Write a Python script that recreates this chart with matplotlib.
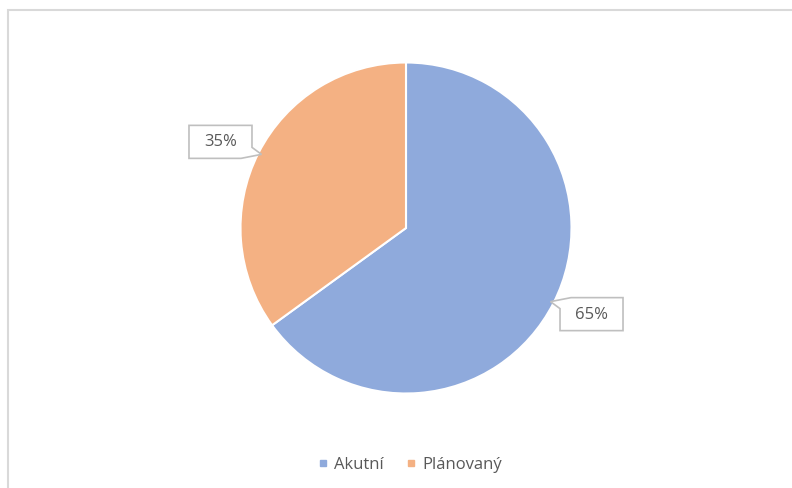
import numpy as np
import matplotlib
matplotlib.use("Agg")
import matplotlib.pyplot as plt
from matplotlib.patches import Polygon, Rectangle
from matplotlib.lines import Line2D

categories = ["Akutní", "Plánovaný"]
values = [65, 35]
labels = ["65%", "35%"]
colors = ["#8FAADC", "#F4B183"]

W, H = 792, 488
fig = plt.figure(figsize=(W / 100, H / 100), dpi=100)
ax = fig.add_axes([0, 0, 1, 1])

# outer chart border (light gray)
ax.add_patch(Rectangle((7.5, -20), W + 20, H - 9.5 + 20, fill=False,
                       edgecolor="#D9D9D9", linewidth=1.5))

cx, cy, r = 406, H - 228, 165.5
wedges, _ = ax.pie(values, colors=colors, startangle=90, counterclock=False,
                   center=(cx, cy), radius=r, frame=True,
                   wedgeprops=dict(edgecolor="white", linewidth=1.5))
ax.set_xlim(0, W)
ax.set_ylim(0, H)
ax.set_aspect("equal")
ax.axis("off")

txtcolor = "#595959"
bw, bh = 63, 33
n1, n2 = 11, 11
for w, lab in zip(wedges, labels):
    mid = np.deg2rad((w.theta1 + w.theta2) / 2)
    ux, uy = np.cos(mid), np.sin(mid)
    sx, sy = np.sign(ux), np.sign(uy)
    tip = np.array([cx + 0.98 * r * ux, cy + 0.98 * r * uy])
    corner = tip + np.array([9.5 * sx, -4.0 * sy])
    far = corner + np.array([bw * sx, bh * sy])
    x0, x1 = sorted([corner[0], far[0]])
    y0, y1 = sorted([corner[1], far[1]])
    corners = [(x0, y0), (x1, y0), (x1, y1), (x0, y1)]
    k = int(np.argmin([np.hypot(px - corner[0], py - corner[1])
                       for px, py in corners]))
    pts = []
    for i in range(4):
        if i == k:
            c = np.array(corners[i])
            v1 = np.array(corners[(i - 1) % 4]) - c
            v2 = np.array(corners[(i + 1) % 4]) - c
            p1 = c + v1 / np.linalg.norm(v1) * n1
            p2 = c + v2 / np.linalg.norm(v2) * n2
            pts += [tuple(p1), tuple(tip), tuple(p2)]
        else:
            pts.append(corners[i])
    ax.add_patch(Polygon(pts, closed=True, facecolor="white",
                         edgecolor="#BFBFBF", linewidth=1.2, zorder=5))
    ax.text((x0 + x1) / 2, (y0 + y1) / 2 - 0.5, lab, ha="center",
            va="center", fontsize=12, color=txtcolor, family="Open Sans",
            zorder=6)

handles = [Line2D([], [], linestyle="none", marker="s", markersize=4.3,
                  markerfacecolor=c, markeredgecolor=c) for c in colors]
fig.legend(handles, categories, loc="center", ncol=2,
           bbox_to_anchor=(410 / W, 1 - 465 / H), frameon=False,
           prop=dict(family="Open Sans", size=12), labelcolor=txtcolor,
           handlelength=0.6, handletextpad=0.4, columnspacing=1.3)

fig.savefig("out.png", dpi=100, facecolor="white")
